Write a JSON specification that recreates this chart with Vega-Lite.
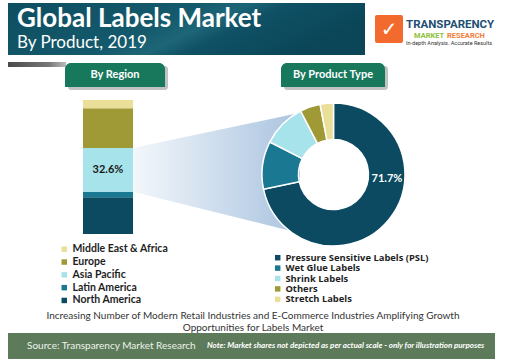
{
  "$schema": "https://vega.github.io/schema/vega-lite/v6.json",
  "width": 516,
  "height": 364,
  "padding": 0,
  "autosize": {"type": "fit", "contains": "padding"},
  "background": "white",
  "config": {"view": {"stroke": null}, "font": "Lato"},
  "resolve": {"scale": {"color": "independent", "x": "shared", "y": "shared"}, "legend": {"color": "independent"}},
  "layer": [
    {
      "data": {"values": [{}]},
      "mark": {"type": "rect", "x": 8, "x2": 365, "y": 3, "y2": 55,
        "fill": {"gradient": "linear", "x1": 0, "y1": 0, "x2": 1, "y2": 0.3,
          "stops": [{"offset": 0, "color": "#0e4e61"}, {"offset": 0.5, "color": "#145a6c"}, {"offset": 0.62, "color": "#1d6678"}, {"offset": 0.72, "color": "#105165"}, {"offset": 1, "color": "#0a4658"}]}}
    },
    {
      "data": {"values": [{}]},
      "mark": {"type": "rect", "x": 8, "x2": 66, "y": 62, "y2": 67,
        "fill": {"gradient": "linear", "x1": 0, "y1": 0, "x2": 1, "y2": 0, "stops": [{"offset": 0, "color": "#4a4a4a"}, {"offset": 0.7, "color": "#777777"}, {"offset": 1, "color": "#bbbbbb"}]}}
    },
    {
      "data": {"values": [{}]},
      "mark": {"type": "text", "text": "Global Labels Market", "x": 17, "y": 27, "align": "left", "baseline": "alphabetic", "fontSize": 26, "fontWeight": "bold", "color": "white", "font": "Lato"}
    },
    {
      "data": {"values": [{}]},
      "mark": {"type": "text", "text": "By Product, 2019", "x": 17, "y": 48, "align": "left", "baseline": "alphabetic", "fontSize": 17, "color": "white", "font": "Lato"}
    },
    {
      "data": {"values": [{}]},
      "mark": {"type": "rect", "x": 375, "x2": 403, "y": 15, "y2": 43, "fill": "#f26a2e", "cornerRadius": 2}
    },
    {
      "data": {"values": [{}]},
      "mark": {"type": "text", "text": "✓", "x": 389, "y": 30, "align": "center", "baseline": "middle", "fontSize": 20, "fontWeight": "bold", "color": "white", "font": "DejaVu Sans"}
    },
    {
      "data": {"values": [{}]},
      "mark": {"type": "text", "text": "TRANSPARENCY", "x": 406, "y": 28, "align": "left", "baseline": "alphabetic", "fontSize": 11.5, "fontWeight": "bold", "color": "#1d4f72", "font": "Roboto"}
    },
    {
      "data": {"values": [{}]},
      "mark": {"type": "text", "text": "MARKET", "x": 414, "y": 38, "align": "left", "baseline": "alphabetic", "fontSize": 7.5, "fontWeight": "bold", "color": "#8fbf3c", "font": "Roboto"}
    },
    {
      "data": {"values": [{}]},
      "mark": {"type": "text", "text": "RESEARCH", "x": 447, "y": 38, "align": "left", "baseline": "alphabetic", "fontSize": 7.5, "fontWeight": "bold", "color": "#f07d3a", "font": "Roboto"}
    },
    {
      "data": {"values": [{}]},
      "mark": {"type": "text", "text": "In-depth Analysis. Accurate Results", "x": 406, "y": 45, "align": "left", "baseline": "alphabetic", "fontSize": 5.5, "color": "#333333", "font": "Roboto"}
    },
    {
      "data": {"values": [{}]},
      "mark": {"type": "rect", "x": 68, "x2": 168, "y": 66, "y2": 90, "fill": "#777777", "opacity": 0.45, "cornerRadius": 3}
    },
    {
      "data": {"values": [{}]},
      "mark": {"type": "rect", "x": 65, "x2": 165, "y": 63, "y2": 87, "fill": "#17785c", "cornerRadiusTopLeft": 6, "cornerRadiusTopRight": 6}
    },
    {
      "data": {"values": [{}]},
      "mark": {"type": "text", "text": "By Region", "x": 115, "y": 75, "align": "center", "baseline": "middle", "fontSize": 11, "fontWeight": "bold", "color": "white", "font": "Lato"}
    },
    {
      "data": {"values": [{}]},
      "mark": {"type": "rect", "x": 284, "x2": 388, "y": 66, "y2": 90, "fill": "#777777", "opacity": 0.45, "cornerRadius": 3}
    },
    {
      "data": {"values": [{}]},
      "mark": {"type": "rect", "x": 281, "x2": 385, "y": 63, "y2": 87, "fill": "#17785c", "cornerRadiusTopLeft": 6, "cornerRadiusTopRight": 6}
    },
    {
      "data": {"values": [{}]},
      "mark": {"type": "text", "text": "By Product Type", "x": 333, "y": 75, "align": "center", "baseline": "middle", "fontSize": 11, "fontWeight": "bold", "color": "white", "font": "Lato"}
    },
    {
      "data": {"values": [{"pos": 0, "top": 0.642, "bottom": 0.316}, {"pos": 1, "top": 0.905, "bottom": 0.005}]},
      "mark": {"type": "area", "fill": {"gradient": "linear", "x1": 0, "y1": 0, "x2": 1, "y2": 0, "stops": [{"offset": 0, "color": "#f3f7fb"}, {"offset": 1, "color": "#a9c3df"}]}},
      "encoding": {
        "x": {"field": "pos", "type": "quantitative", "scale": {"domain": [0, 1], "range": [133, 300], "nice": false, "zero": false}, "axis": null},
        "y": {"field": "top", "type": "quantitative", "stack": null, "scale": {"domain": [0, 1], "range": [234, 100], "nice": false}, "axis": null},
        "y2": {"field": "bottom"}
      }
    },
    {
      "data": {"values": [
        {"region": "North America", "share": 0.274, "idx": 1},
        {"region": "Latin America", "share": 0.042, "idx": 2},
        {"region": "Asia Pacific", "share": 0.326, "idx": 3},
        {"region": "Europe", "share": 0.296, "idx": 4},
        {"region": "Middle East & Africa", "share": 0.062, "idx": 5}
      ]},
      "transform": [{"stack": "share", "groupby": [], "sort": [{"field": "idx", "order": "ascending"}], "as": ["s0", "s1"]}],
      "mark": {"type": "rect"},
      "encoding": {
        "x": {"value": 83},
        "x2": {"value": 133},
        "y": {"field": "s0", "type": "quantitative", "scale": {"domain": [0, 1], "range": [234, 100], "nice": false}, "axis": null},
        "y2": {"field": "s1"},
        "color": {"field": "region", "type": "nominal",
          "scale": {"domain": ["Middle East & Africa", "Europe", "Asia Pacific", "Latin America", "North America"], "range": ["#e9df98", "#a09a36", "#a7e3ea", "#1b7892", "#0c4a62"]},
          "legend": {"title": null, "orient": "none", "legendX": 59, "legendY": 244, "padding": 0, "symbolType": "square", "symbolSize": 30, "symbolStrokeWidth": 0, "labelFont": "Lato", "labelFontSize": 10.5, "labelFontWeight": "bold", "labelColor": "#1e1e1e", "rowPadding": 1.8, "labelOffset": 3, "labelLimit": 300}}
      }
    },
    {
      "data": {"values": [{"region": "Asia Pacific", "share": 0.326}]},
      "mark": {"type": "text", "x": 108, "y": 170, "align": "center", "baseline": "middle", "fontSize": 11, "fontWeight": "bold", "color": "#1a1a1a", "font": "Lato"},
      "encoding": {"text": {"field": "share", "type": "quantitative", "format": ".1%"}}
    },
    {
      "data": {"values": [
        {"product": "Pressure Sensitive Labels (PSL)", "share": 0.717, "idx": 1},
        {"product": "Wet Glue Labels", "share": 0.108, "idx": 2},
        {"product": "Shrink Labels", "share": 0.099, "idx": 3},
        {"product": "Others", "share": 0.046, "idx": 4},
        {"product": "Stretch Labels", "share": 0.030, "idx": 5}
      ]},
      "mark": {"type": "arc", "x": 333.5, "y": 174.5, "outerRadius": 71.5, "innerRadius": 35, "stroke": "white", "strokeWidth": 1.5},
      "encoding": {
        "theta": {"field": "share", "type": "quantitative", "stack": true},
        "order": {"field": "idx", "type": "quantitative"},
        "color": {"field": "product", "type": "nominal",
          "scale": {"domain": ["Pressure Sensitive Labels (PSL)", "Wet Glue Labels", "Shrink Labels", "Others", "Stretch Labels"], "range": ["#0c4a62", "#1b7892", "#a7e3ea", "#a09a36", "#e9df98"]},
          "legend": {"title": null, "orient": "none", "legendX": 273, "legendY": 253, "padding": 0, "symbolType": "square", "symbolSize": 30, "symbolStrokeWidth": 0, "labelFont": "Open Sans", "labelFontSize": 9.4, "labelFontWeight": "bold", "labelColor": "#1e1e1e", "rowPadding": -0.6, "labelOffset": 3, "labelLimit": 300}}
      }
    },
    {
      "data": {"values": [{"product": "Pressure Sensitive Labels (PSL)", "share": 0.717}]},
      "mark": {"type": "text", "x": 387, "y": 179, "align": "center", "baseline": "middle", "fontSize": 11, "fontWeight": "bold", "color": "white", "font": "Lato"},
      "encoding": {"text": {"field": "share", "type": "quantitative", "format": ".1%"}}
    },
    {
      "data": {"values": [{}]},
      "mark": {"type": "text", "text": ["Increasing Number of Modern Retail Industries and E-Commerce Industries Amplifying Growth", "Opportunities for Labels Market"], "x": 253, "y": 311, "align": "center", "baseline": "top", "fontSize": 10, "lineHeight": 12, "color": "#333333", "font": "Lato"}
    },
    {
      "data": {"values": [{}]},
      "mark": {"type": "rect", "x": 8, "x2": 495, "y": 333, "y2": 359, "fill": "#5d7b5a"}
    },
    {
      "data": {"values": [{}]},
      "mark": {"type": "text", "text": "Source: Transparency Market Research", "x": 27, "y": 346, "align": "left", "baseline": "middle", "fontSize": 10, "color": "#eef3ec", "font": "Lato"}
    },
    {
      "data": {"values": [{}]},
      "mark": {"type": "text", "text": "Note: Market shares not depicted as per actual scale - only for illustration purposes", "x": 207, "y": 346, "align": "left", "baseline": "middle", "fontSize": 8, "fontStyle": "italic", "fontWeight": "bold", "color": "#ffffff", "font": "Lato"}
    }
  ]
}
